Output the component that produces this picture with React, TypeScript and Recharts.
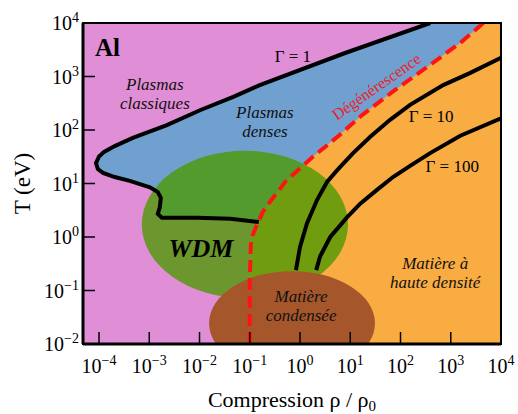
import React from "react";
import {
  ComposedChart,
  Area,
  Line,
  XAxis,
  YAxis,
  CartesianGrid,
  ReferenceArea,
  ReferenceDot,
  Label,
} from "recharts";

// no serif face in the sandbox: Liberation Sans keeps widths close to Times
const FONT = "'Liberation Serif', 'Liberation Sans', Arimo, Arial, sans-serif";

const PINK = "#e08ed6";
const BLUE = "#70a0d0";
const ORANGE = "#f9ac42";
const GREEN = "#4d9a04";
const BROWN = "#a5562b";
const RED = "#ff1414";

// axes: compression rho/rho0 (x) and temperature in eV (t), both log
const X_MIN = 4.8e-5;
const X_MAX = 1e4;
const T_MIN = 1e-2;
const T_MAX = 1e4;

const xTicks = [1e-4, 1e-3, 1e-2, 1e-1, 1, 1e1, 1e2, 1e3, 1e4];
const tTicks = [1e-2, 1e-1, 1, 1e1, 1e2, 1e3, 1e4];

// Gamma = 1 boundary, upper branch (from the left tip up to the top frame)
const gamma1Upper = [
  { x: 8.7e-5, t: 24 },
  { x: 1.0e-4, t: 32 },
  { x: 1.26e-4, t: 39 },
  { x: 2.05e-4, t: 50 },
  { x: 4.7e-4, t: 71 },
  { x: 2.24e-3, t: 123 },
  { x: 0.0102, t: 234 },
  { x: 0.047, t: 417 },
  { x: 0.158, t: 692 },
  { x: 7.9, t: 2750 },
  { x: 389, t: 10000 },
];

// lower branch (from the tip to the degeneracy line)
const gamma1Lower = [
  { x: 8.7e-5, t: 24 },
  { x: 9.5e-5, t: 18.6 },
  { x: 1.2e-4, t: 15.8 },
  { x: 2.05e-4, t: 13.2 },
  { x: 4.1e-4, t: 11.2 },
  { x: 1.03e-3, t: 8.5 },
  { x: 1.48e-3, t: 6.9 },
  { x: 1.7e-3, t: 5.4 },
  { x: 1.62e-3, t: 3.6 },
  { x: 1.48e-3, t: 2.7 },
  { x: 1.78e-3, t: 2.3 },
  { x: 8.9e-3, t: 2.3 },
  { x: 0.041, t: 2.2 },
  { x: 0.1, t: 2.0 },
  { x: 0.151, t: 1.9 },
];

const degeneracy = [
  { x: 0.1, t: 0.01 },
  { x: 0.1, t: 0.158 },
  { x: 0.105, t: 0.71 },
  { x: 0.115, t: 1.1 },
  { x: 0.138, t: 1.66 },
  { x: 0.182, t: 2.95 },
  { x: 0.25, t: 4.5 },
  { x: 0.525, t: 11.1 },
  { x: 1.82, t: 31.8 },
  { x: 5.5, t: 74 },
  { x: 17.2, t: 190 },
  { x: 78, t: 562 },
  { x: 339, t: 1510 },
  { x: 1550, t: 4250 },
  { x: 4460, t: 10000 },
];

const gamma10 = [
  { x: 0.83, t: 0.24 },
  { x: 1.0, t: 0.65 },
  { x: 1.38, t: 1.82 },
  { x: 2.18, t: 4.9 },
  { x: 3.45, t: 10.7 },
  { x: 5.5, t: 17.8 },
  { x: 11.4, t: 37 },
  { x: 24.7, t: 74 },
  { x: 62, t: 155 },
  { x: 155, t: 295 },
  { x: 708, t: 692 },
  { x: 2450, t: 1170 },
  { x: 10000, t: 2240 },
];

const gamma100 = [
  { x: 2.1, t: 0.24 },
  { x: 2.5, t: 0.43 },
  { x: 4.0, t: 1.0 },
  { x: 8.7, t: 2.35 },
  { x: 15.8, t: 4.2 },
  { x: 34, t: 7.6 },
  { x: 71, t: 13.2 },
  { x: 155, t: 21.4 },
  { x: 389, t: 37 },
  { x: 1550, t: 78 },
  { x: 10000, t: 166 },
];

// elliptic zones, given by their bounding boxes
const wdmZone = { x1: 7.1e-4, x2: 9.0, t1: 41, t2: 0.072 };
const condensedZone = { x1: 0.0155, x2: 31, t1: 0.23, t2: 0.0026 };

const notes = [
  { x: 8.3e-5, t: 2400, text: ["Al"], kind: "title" },
  { x: 1.29e-3, t: 562, text: ["Plasmas", "classiques"], kind: "region" },
  { x: 0.2, t: 166, text: ["Plasmas", "denses"], kind: "region" },
  { x: 0.72, t: 1860, text: ["Γ = 1"], kind: "gamma" },
  { x: 32.6, t: 660, text: ["Dégénérescence"], kind: "degen" },
  { x: 407, t: 141, text: ["Γ = 10"], kind: "gamma" },
  { x: 1070, t: 16.4, text: ["Γ = 100"], kind: "gamma" },
  { x: 0.0107, t: 0.43, text: ["WDM"], kind: "wdm" },
  { x: 1.05, t: 0.061, text: ["Matière", "condensée"], kind: "region" },
  { x: 490, t: 0.25, text: ["Matière à", "haute densité"], kind: "region" },
];

const NOTE_STYLE: Record<string, any> = {
  title: { fontSize: 25, fontWeight: 700, fontStyle: "normal", anchor: "start", fill: "#000" },
  region: { fontSize: 17, fontWeight: 400, fontStyle: "italic", anchor: "middle", fill: "#111" },
  gamma: { fontSize: 17, fontWeight: 400, fontStyle: "normal", anchor: "middle", fill: "#000" },
  degen: { fontSize: 16, fontWeight: 400, fontStyle: "normal", anchor: "middle", fill: "#ee1c25" },
  wdm: { fontSize: 26, fontWeight: 700, fontStyle: "italic", anchor: "middle", fill: "#000" },
};

const W = 510;
const H = 406;

function expText(v: number) {
  const e = Math.round(Math.log10(v));
  return e < 0 ? `\u2212${-e}` : `${e}`;
}

function PowerTick({ x, y, payload, vertical }: any) {
  return (
    <text
      x={x}
      y={vertical ? y + 7 : y + 29}
      textAnchor={vertical ? "end" : "middle"}
      style={{ fontFamily: FONT, fontSize: 20 }}
      fill="#000"
    >
      10
      <tspan dy={-8} style={{ fontSize: 14 }}>
        {expText(payload.value)}
      </tspan>
    </text>
  );
}

function XTitle({ viewBox }: any) {
  const cx = viewBox.x + viewBox.width / 2;
  return (
    <text x={cx} y={viewBox.y + 63} textAnchor="middle" style={{ fontFamily: FONT, fontSize: 22 }} fill="#000">
      Compression ρ / ρ
      <tspan dy={4} style={{ fontSize: 15 }}>
        0
      </tspan>
    </text>
  );
}

function YTitle({ viewBox }: any) {
  const cy = viewBox.y + viewBox.height / 2;
  const x = viewBox.x + 22;
  return (
    <text
      x={x}
      y={cy}
      transform={`rotate(-90 ${x} ${cy})`}
      textAnchor="middle"
      style={{ fontFamily: FONT, fontSize: 23 }}
      fill="#000"
    >
      T (eV)
    </text>
  );
}

function Ellipse(props: any) {
  const { x, y, width, height, fill, fillOpacity, clipPath } = props;
  return (
    <ellipse
      cx={x + width / 2}
      cy={y + height / 2}
      rx={width / 2}
      ry={height / 2}
      fill={fill}
      fillOpacity={fillOpacity}
      clipPath={clipPath}
    />
  );
}

function Note({ cx, cy, note }: any) {
  const s = NOTE_STYLE[note.kind];
  const rot = note.kind === "degen" ? `rotate(-35 ${cx} ${cy})` : undefined;
  return (
    <text
      x={cx}
      y={cy}
      transform={rot}
      textAnchor={s.anchor}
      style={{
        fontFamily: FONT,
        fontSize: s.fontSize,
        fontWeight: s.fontWeight,
        fontStyle: s.fontStyle,
      }}
      fill={s.fill}
    >
      {note.text.map((line: string, i: number) => (
        <tspan key={i} x={cx} dy={i === 0 ? (note.kind === "degen" ? 6 : 0) : 19}>
          {line}
        </tspan>
      ))}
    </text>
  );
}

export default function App() {
  const boundary = [...gamma1Upper].reverse().concat(gamma1Lower.slice(1));
  const plasmaFill = [...gamma1Upper, { x: X_MAX, t: T_MAX }];
  const highDensityFill = [...degeneracy, { x: X_MAX, t: T_MAX }];

  // absolute so the body margin does not push a scrollbar into the 518x414 window
  return (
    <div style={{ position: "absolute", left: 8, top: 8, width: W, height: H, fontFamily: FONT }}>
      <ComposedChart
        width={W}
        height={H}
        margin={{ top: 15, right: 17, bottom: 0, left: 0 }}
        style={{ overflow: "visible" }}
      >
        <CartesianGrid horizontal={false} vertical={false} fill={PINK} fillOpacity={1} />

        <XAxis
          dataKey="x"
          type="number"
          scale="log"
          domain={[X_MIN, X_MAX]}
          allowDataOverflow
          ticks={xTicks}
          interval={0}
          height={70}
          tickSize={-12}
          tickMargin={12}
          tick={<PowerTick />}
          axisLine={{ stroke: "#000", strokeWidth: 3 }}
          tickLine={{ stroke: "#000", strokeWidth: 1.5 }}
          zIndex={900}
        >
          <Label content={<XTitle />} />
        </XAxis>
        <YAxis
          type="number"
          scale="log"
          domain={[T_MIN, T_MAX]}
          allowDataOverflow
          ticks={tTicks}
          interval={0}
          width={75}
          tickSize={-12}
          tickMargin={16}
          tick={<PowerTick vertical />}
          axisLine={{ stroke: "#000", strokeWidth: 3 }}
          tickLine={{ stroke: "#000", strokeWidth: 1.5 }}
          zIndex={900}
        >
          <Label content={<YTitle />} />
        </YAxis>

        {/* filled regions */}
        <Area
          data={plasmaFill}
          dataKey="t"
          type="linear"
          baseValue={T_MIN}
          stroke="none"
          fill={BLUE}
          fillOpacity={1}
          isAnimationActive={false}
          zIndex={100}
        />
        <Area
          data={gamma1Lower}
          dataKey="t"
          type="linear"
          baseValue={T_MIN}
          stroke="none"
          fill={PINK}
          fillOpacity={1}
          isAnimationActive={false}
          zIndex={110}
        />
        <Area
          data={highDensityFill}
          dataKey="t"
          type="linear"
          baseValue={T_MIN}
          stroke="none"
          fill={ORANGE}
          fillOpacity={1}
          isAnimationActive={false}
          zIndex={120}
        />

        {/* WDM and condensed matter zones */}
        <ReferenceArea
          x1={wdmZone.x1}
          x2={wdmZone.x2}
          y1={wdmZone.t2}
          y2={wdmZone.t1}
          ifOverflow="hidden"
          fill={GREEN}
          fillOpacity={0.8}
          shape={<Ellipse />}
          zIndex={200}
        />
        <ReferenceArea
          x1={condensedZone.x1}
          x2={condensedZone.x2}
          y1={condensedZone.t2}
          y2={condensedZone.t1}
          ifOverflow="hidden"
          fill={BROWN}
          fillOpacity={1}
          shape={<Ellipse />}
          zIndex={210}
        />

        {/* curves */}
        <Line
          data={boundary}
          dataKey="t"
          type="linear"
          stroke="#000"
          strokeWidth={4}
          dot={false}
          activeDot={false}
          isAnimationActive={false}
          zIndex={400}
        />
        <Line
          data={gamma10}
          dataKey="t"
          type="linear"
          stroke="#000"
          strokeWidth={4}
          dot={false}
          activeDot={false}
          isAnimationActive={false}
          zIndex={400}
        />
        <Line
          data={gamma100}
          dataKey="t"
          type="linear"
          stroke="#000"
          strokeWidth={4}
          dot={false}
          activeDot={false}
          isAnimationActive={false}
          zIndex={400}
        />
        <Line
          data={degeneracy}
          dataKey="t"
          type="linear"
          stroke={RED}
          strokeWidth={4}
          strokeDasharray="12 6"
          dot={false}
          activeDot={false}
          isAnimationActive={false}
          zIndex={410}
        />

        {/* frame */}
        <ReferenceArea
          x1={X_MIN}
          x2={X_MAX}
          y1={T_MIN}
          y2={T_MAX}
          ifOverflow="visible"
          fill="none"
          stroke="#000"
          strokeWidth={2}
          zIndex={800}
        />

        {notes.map((n, i) => (
          <ReferenceDot
            key={i}
            x={n.x}
            y={n.t}
            r={0}
            ifOverflow="visible"
            shape={(p: any) => <Note cx={p.cx} cy={p.cy} note={n} />}
            zIndex={700}
          />
        ))}
      </ComposedChart>
    </div>
  );
}
